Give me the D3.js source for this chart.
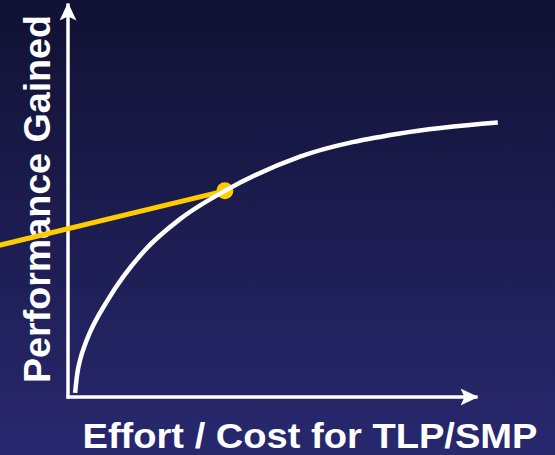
<!DOCTYPE html>
<html>
<head>
<meta charset="utf-8">
<script src="https://cdn.jsdelivr.net/npm/d3@7"></script>
<style>
  html, body { margin: 0; padding: 0; background: #1a1a50; }
  svg { display: block; }
</style>
</head>
<body>
<div id="app"></div>
<script>
// performance curve (effort -> performance), arbitrary units 0..100
const effort      = [1.5, 2.0, 2.8, 3.9, 5.1, 9.6, 18.6, 27.2, 38.2, 56.6, 81.1, 105.1];
const performance = [0.8, 5.5, 9.5, 13.0, 16.1, 24.6, 37.1, 45.0, 52.2, 60.9, 66.8, 69.6];

// yellow line ending at the marked point
const lineEffort = [-20, 38.2];
const linePerf   = [37.6, 52.2];
const marked     = { effort: 38.2, perf: 52.2 };

const xLabel = 'Effort / Cost for TLP/SMP';
const yLabel = 'Performance Gained';

const width = 555;
const height = 455;

const svg = d3.select('#app')
  .append('svg')
  .attr('width', width)
  .attr('height', height);

const defs = svg.append('defs');
const grad = defs.append('linearGradient')
  .attr('id', 'bg')
  .attr('x1', 0).attr('y1', 0).attr('x2', 0).attr('y2', 1);
grad.append('stop').attr('offset', '0%').attr('stop-color', '#111133');
grad.append('stop').attr('offset', '100%').attr('stop-color', '#28286f');

// arrow head, notched back
defs.append('marker')
  .attr('id', 'arrow')
  .attr('markerUnits', 'userSpaceOnUse')
  .attr('viewBox', '0 0 18 17')
  .attr('markerWidth', 18)
  .attr('markerHeight', 17)
  .attr('refX', 17)
  .attr('refY', 8.5)
  .attr('orient', 'auto')
  .append('path')
  .attr('d', 'M0,0 L18,8.5 L0,17 L4,8.5 Z')
  .attr('fill', '#fff');

svg.append('rect')
  .attr('width', width)
  .attr('height', height)
  .attr('fill', 'url(#bg)');

const xScale = d3.scaleLinear()
  .domain([0, 100])
  .range([69, 477]);

const yScale = d3.scaleLinear()
  .domain([0, 100])
  .range([396, 3]);

/* axes: no ticks, just the arrowed domain lines */
const xAxis = svg.append('g')
  .attr('transform', 'translate(0, 396.5)')
  .call(d3.axisBottom(xScale.copy().range([66, 477])).tickValues([]).tickSizeOuter(0));

const yAxis = svg.append('g')
  .attr('transform', 'translate(67.5, 0)')
  .call(d3.axisLeft(yScale.copy().range([398, 3])).tickValues([]).tickSizeOuter(0));

[xAxis, yAxis].forEach(g => {
  g.select('.domain')
    .attr('stroke', '#fff')
    .attr('stroke-width', 3.5)
    .attr('marker-end', 'url(#arrow)');
});

/* labels */
svg.append('text')
  .attr('transform', 'translate(50, 199) rotate(-90)')
  .attr('text-anchor', 'middle')
  .attr('font-family', 'Liberation Sans, Arial, sans-serif')
  .attr('font-weight', 'bold')
  .attr('font-size', 37.5)
  .attr('fill', '#fff')
  .attr('textLength', 368)
  .attr('lengthAdjust', 'spacingAndGlyphs')
  .text(yLabel);

svg.append('text')
  .attr('x', 310)
  .attr('y', 447.5)
  .attr('text-anchor', 'middle')
  .attr('font-family', 'Liberation Sans, Arial, sans-serif')
  .attr('font-weight', 'bold')
  .attr('font-size', 35)
  .attr('fill', '#fff')
  .attr('textLength', 455)
  .attr('lengthAdjust', 'spacingAndGlyphs')
  .text(xLabel);

/* yellow line + point */
const yellowData = lineEffort.map((e, i) => ({ x: e, y: linePerf[i] }));
svg.append('path')
  .datum(yellowData)
  .attr('fill', 'none')
  .attr('stroke', '#ffcc00')
  .attr('stroke-width', 5)
  .attr('d', d3.line().x(d => xScale(d.x)).y(d => yScale(d.y)));

svg.append('circle')
  .attr('cx', xScale(marked.effort))
  .attr('cy', yScale(marked.perf))
  .attr('r', 8.5)
  .attr('fill', '#ffcc00');

/* white curve */
const curveData = effort.map((e, i) => ({ x: e, y: performance[i] }));
svg.append('path')
  .datum(curveData)
  .attr('fill', 'none')
  .attr('stroke', '#fff')
  .attr('stroke-width', 4.5)
  .attr('d', d3.line()
    .x(d => xScale(d.x))
    .y(d => yScale(d.y))
    .curve(d3.curveMonotoneX));
</script>
</body>
</html>
